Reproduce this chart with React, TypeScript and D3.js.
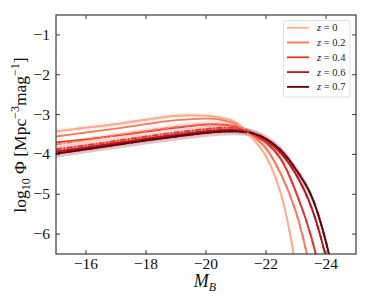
import React from "react";
import * as d3 from "d3";

const mags = [-15, -16, -17, -18, -19, -20, -20.5, -21, -21.5, -22, -22.5, -23, -23.5, -24, -24.5, -25];
const zLabels = ["0", "0.2", "0.4", "0.6", "0.7"];
const colors = ["#fcab8f", "#fb7757", "#e83429", "#bc141a", "#67000d"];

// solid curves (log10 Phi), one per redshift
const solidZ0 = [-3.42, -3.33, -3.24, -3.13, -3.03, -3.03, -3.08, -3.2, -3.55, -4.05, -5.0, -6.85, -9.8, -13.5, -18, -23];
const solidZ02 = [-3.55, -3.45, -3.35, -3.24, -3.14, -3.1, -3.13, -3.24, -3.5, -3.85, -4.5, -5.45, -7.0, -9.5, -12.8, -17];
const solidZ04 = [-3.7, -3.62, -3.53, -3.43, -3.33, -3.25, -3.25, -3.3, -3.47, -3.7, -4.12, -4.95, -6.05, -7.7, -10.3, -13.5];
const solidZ06 = [-3.93, -3.83, -3.72, -3.61, -3.51, -3.42, -3.39, -3.39, -3.46, -3.64, -3.97, -4.5, -5.3, -6.6, -8.7, -11.5];
const solidZ07 = [-3.98, -3.87, -3.76, -3.65, -3.55, -3.46, -3.43, -3.42, -3.46, -3.61, -3.9, -4.38, -5.02, -6.2, -8.1, -10.8];

// dash-dot curves with uncertainty band
const dashZ0 = solidZ0;
const dashZ02 = [-3.75, -3.64, -3.52, -3.41, -3.31, -3.24, -3.24, -3.3, -3.5, -3.85, -4.5, -5.45, -7.0, -9.5, -12.8, -17];
const dashZ04 = [-3.87, -3.77, -3.66, -3.55, -3.45, -3.36, -3.33, -3.34, -3.47, -3.7, -4.12, -4.95, -6.05, -7.7, -10.3, -13.5];
const dashZ06 = solidZ06;
const dashZ07 = solidZ07;
const bandHalf = [0.06, 0.07, 0.07, 0.08, 0.1];

const solids = [solidZ0, solidZ02, solidZ04, solidZ06, solidZ07];
const dashes = [dashZ0, dashZ02, dashZ04, dashZ06, dashZ07];

const xTicks = [-16, -18, -20, -22, -24];
const yTicks = [-1, -2, -3, -4, -5, -6];

const W = 374, H = 299;
const L = 56, R = 356, T = 15, B = 254;

export default function App() {
  const x = d3.scaleLinear().domain([-15, -25]).range([L, R]);
  const y = d3.scaleLinear().domain([-6.5, -0.5]).range([B, T]);
  const curve = d3.curveCatmullRom.alpha(0.5);
  const line = d3.line<number>().x((_, i) => x(mags[i])).y((v) => y(v)).curve(curve);
  const area = (vals: number[], h: number) =>
    d3.area<number>().x((_, i) => x(mags[i])).y0((v) => y(v - h)).y1((v) => y(v + h)).curve(curve)(vals) || "";
  const fmt = (v: number) => "\u2212" + Math.abs(v);
  const font = "Liberation Serif, Times New Roman, serif";
  const frame = "#3a3a3a";
  return (
    <svg width={W} height={H} style={{ position: "absolute", left: 0, top: 0 }}>
      <defs>
        <clipPath id="plot">
          <rect x={L} y={T} width={R - L} height={B - T} />
        </clipPath>
      </defs>
      <rect x={0} y={0} width={W} height={H} fill="#fff" />
      <g clipPath="url(#plot)">
        {dashes.map((d, i) => (
          <path key={"b" + i} d={area(d, bandHalf[i])} fill={colors[i]} opacity={0.22} />
        ))}
        {solids.map((s, i) => (
          <path key={"s" + i} d={line(s) || ""} fill="none" stroke={colors[i]} strokeWidth={1.8} />
        ))}
        {dashes.map((d, i) => (
          <path key={"d" + i} d={line(d) || ""} fill="none" stroke={colors[i]} strokeWidth={1.8}
            strokeDasharray="6,1.6,1.6,1.6" />
        ))}
      </g>
      <rect x={L} y={T} width={R - L} height={B - T} fill="none" stroke={frame} strokeWidth={1.2} />
      {xTicks.map((t) => (
        <g key={"xt" + t}>
          <line x1={x(t)} x2={x(t)} y1={B} y2={B - 4} stroke={frame} strokeWidth={1} />
          <line x1={x(t)} x2={x(t)} y1={T} y2={T + 4} stroke={frame} strokeWidth={1} />
          <text x={x(t)} y={269} textAnchor="middle" fontFamily={font} fontSize={15.5} fill="#111">{fmt(t)}</text>
        </g>
      ))}
      {yTicks.map((t) => (
        <g key={"yt" + t}>
          <line x1={L} x2={L + 4} y1={y(t)} y2={y(t)} stroke={frame} strokeWidth={1} />
          <line x1={R} x2={R - 4} y1={y(t)} y2={y(t)} stroke={frame} strokeWidth={1} />
          <text x={50} y={y(t) + 5} textAnchor="end" fontFamily={font} fontSize={15.5} fill="#111">{fmt(t)}</text>
        </g>
      ))}
      <text x={205} y={287} textAnchor="middle" fontFamily={font} fontSize={18} fill="#111">
        <tspan fontStyle="italic">M</tspan>
        <tspan fontStyle="italic" fontSize={12} dy={4}>B</tspan>
      </text>
      <text transform="translate(26,135) rotate(-90)" textAnchor="middle" fontFamily={font} fontSize={17.5} fill="#111">
        <tspan>log</tspan>
        <tspan fontSize={12} dy={4}>10</tspan>
        <tspan dy={-4}> Φ [Mpc</tspan>
        <tspan fontSize={12} dy={-7}>−3</tspan>
        <tspan dy={7}>mag</tspan>
        <tspan fontSize={12} dy={-7}>−1</tspan>
        <tspan dy={7}>]</tspan>
      </text>
      <g>
        <rect x={283.5} y={20.5} width={66.5} height={76.5} rx={2} fill="#fff" stroke="#d8d8d8" strokeWidth={0.8} />
        {zLabels.map((z, i) => {
          const ly = 27.7 + i * 14.8;
          return (
            <g key={"lg" + z}>
              <line x1={287} x2={309} y1={ly} y2={ly} stroke={colors[i]} strokeWidth={1.8} />
              <text x={317} y={ly + 3.5} fontFamily={font} fontSize={10.5} fill="#222">
                <tspan fontStyle="italic">z</tspan>
                <tspan> = {z}</tspan>
              </text>
            </g>
          );
        })}
      </g>
    </svg>
  );
}
